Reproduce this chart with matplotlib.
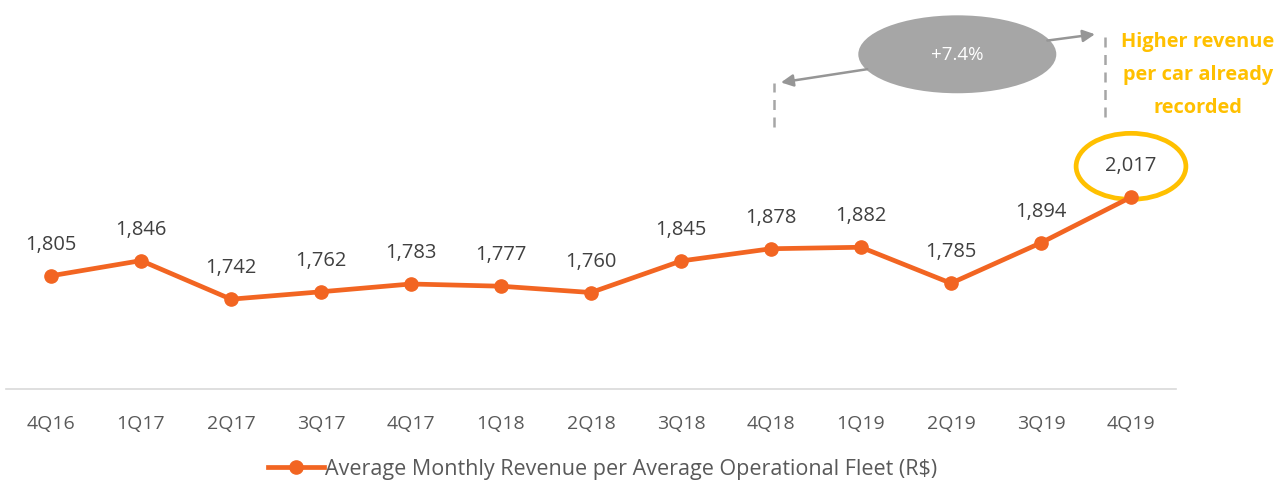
import matplotlib
matplotlib.use('Agg')
import matplotlib.pyplot as plt
from matplotlib.patches import Ellipse

quarters = ['4Q16', '1Q17', '2Q17', '3Q17', '4Q17', '1Q18', '2Q18',
            '3Q18', '4Q18', '1Q19', '2Q19', '3Q19', '4Q19']
revenue = [1805, 1846, 1742, 1762, 1783, 1777, 1760,
           1845, 1878, 1882, 1785, 1894, 2017]
growth_label = '+7.4%'
note = 'Higher revenue\nper car already\nrecorded'
legend_label = 'Average Monthly Revenue per Average Operational Fleet (R$)'

orange = '#f26522'
gold = '#ffc000'
grey = '#a6a6a6'

plt.rcParams['font.family'] = ['Open Sans', 'DejaVu Sans']

fig = plt.figure(figsize=(12.76, 4.85), dpi=100)
ax = fig.add_axes([6/1276, 95/485, 1170/1276, 390/485])
x = list(range(len(quarters)))
ax.plot(x, revenue, color=orange, lw=3.4, marker='o', ms=9.5, label=legend_label)
ax.set_xlim(-0.5, len(quarters) - 0.5)
ax.set_ylim(1500, 2551)

for i, v in enumerate(revenue):
    ax.annotate('{:,}'.format(v), (i, v), xytext=(0, 23), textcoords='offset points',
                ha='center', va='center', fontsize=14.5, color='#404040')

ax.set_xticks(x)
ax.set_xticklabels(quarters, fontsize=14, color='#595959')
ax.tick_params(axis='x', length=0, pad=18)
ax.set_yticks([])
for s in ['top', 'right', 'left']:
    ax.spines[s].set_visible(False)
ax.spines['bottom'].set_color('#d9d9d9')
ax.spines['bottom'].set_linewidth(1.2)

# highlight last value
last = len(revenue) - 1
ax.add_patch(Ellipse((last, revenue[-1] + 83), 1.22, 178, fill=False,
                     ec=gold, lw=3.4, clip_on=False))

# growth bubble and arrows
ax.add_patch(Ellipse((10.07, 2402), 2.2, 210, fc=grey, ec='none', clip_on=False))
ax.text(10.07, 2402, growth_label, ha='center', va='center', color='white', fontsize=13.5)
ax.annotate('', xy=(8.08, 2325), xytext=(9.1, 2363),
            arrowprops=dict(arrowstyle='-|>', color='#969696', lw=1.8, mutation_scale=18))
ax.annotate('', xy=(11.63, 2457), xytext=(11.04, 2438),
            arrowprops=dict(arrowstyle='-|>', color='#969696', lw=1.8, mutation_scale=18))
ax.plot([8.03, 8.03], [2206, 2325], color=grey, lw=1.8, ls=(0, (4, 3)), clip_on=False)
ax.plot([11.71, 11.71], [2233, 2462], color=grey, lw=1.8, ls=(0, (4, 3)), clip_on=False)

fig.text(1198/1276, 1 - 75/485, note, ha='center', va='center', color=gold,
         fontsize=14.4, fontweight='bold', linespacing=1.88)

fig.legend(loc='center', bbox_to_anchor=(0.472, 1 - 470/485), frameon=False,
           fontsize=15.5, labelcolor='#595959', handlelength=2.6, handletextpad=0.05)

fig.savefig('out.png', dpi=100)
